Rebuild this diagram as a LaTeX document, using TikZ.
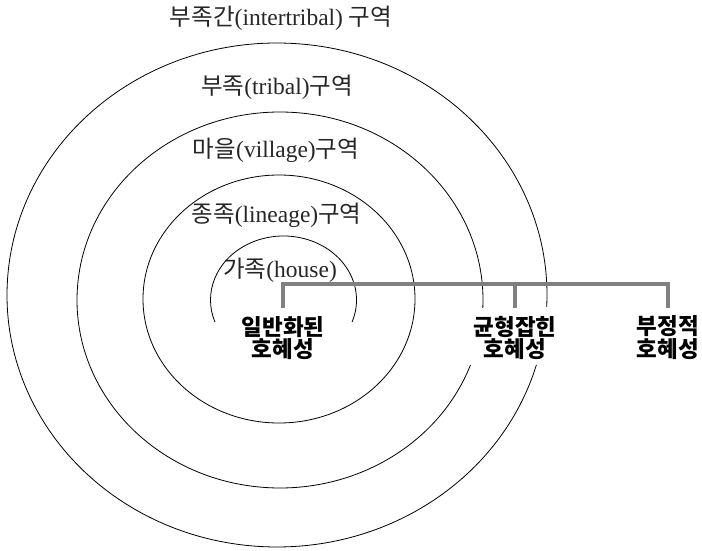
\documentclass[tikz,border=0pt]{standalone}
\usepackage{fontspec}
\setmainfont{Liberation Serif}
\newfontfamily\kr{Noto Sans CJK KR}
\usetikzlibrary{positioning}

\begin{document}
\begin{tikzpicture}[x=1pt, y=1pt,
    ring/.style={black, line width=0.8pt},
    zone/.style={font=\fontsize{23.5}{24}\selectfont, text=black!85, inner sep=0pt},
    recip/.style={font=\kr\bfseries\fontsize{22.5}{20.5}\selectfont, align=center,
                  anchor=north, inner sep=0pt, outer ysep=8pt},
    bracket/.style={gray, line width=4pt}]
    \useasboundingbox (0,0) rectangle (702,550);

    % Zone boundaries (outermost first)
    \draw[ring] ([shift={(277,255)}]-2.7:270 and 252)
        arc[start angle=-2.7, end angle=343.9, x radius=270, y radius=252];
    \draw[ring] ([shift={(280,250)}]-2.4:203 and 188)
        arc[start angle=-2.4, end angle=339.8, x radius=203, y radius=188];
    \draw[ring] (279,251) ellipse (136 and 124);
    \draw[ring] ([shift={(283.5,250)}]-20:73 and 64)
        arc[start angle=-20, end angle=200, x radius=73, y radius=64];

    % Zone labels
    \node[zone] (inter)   at (281,532)   {{\kr 부족간}(intertribal) {\kr 구역}};
    \node[zone] (tribal)  at (277,463)   {{\kr 부족}(tribal){\kr 구역}};
    \node[zone] (village) at (276,400)   {{\kr 마을}(village){\kr 구역}};
    \node[zone] (lineage) at (276.5,335) {{\kr 종족}(lineage){\kr 구역}};
    \node[zone] (house)   at (280,280)   {{\kr 가족}(house)};

    % Reciprocity types
    \node[recip] (gen) at (283,242) {일반화된\\호혜성};
    \node[recip] (bal) at (515,242) {균형잡힌\\호혜성};
    \node[recip] (neg) at (668,242) {부정적\\호혜성};

    % Bracket
    \coordinate (bar) at (0,266);
    \draw[bracket] (gen.north) -- (gen.north |- bar) -- (neg.north |- bar) -- (neg.north);
    \draw[bracket] (bal.north) -- (bal.north |- bar);
\end{tikzpicture}
\end{document}
